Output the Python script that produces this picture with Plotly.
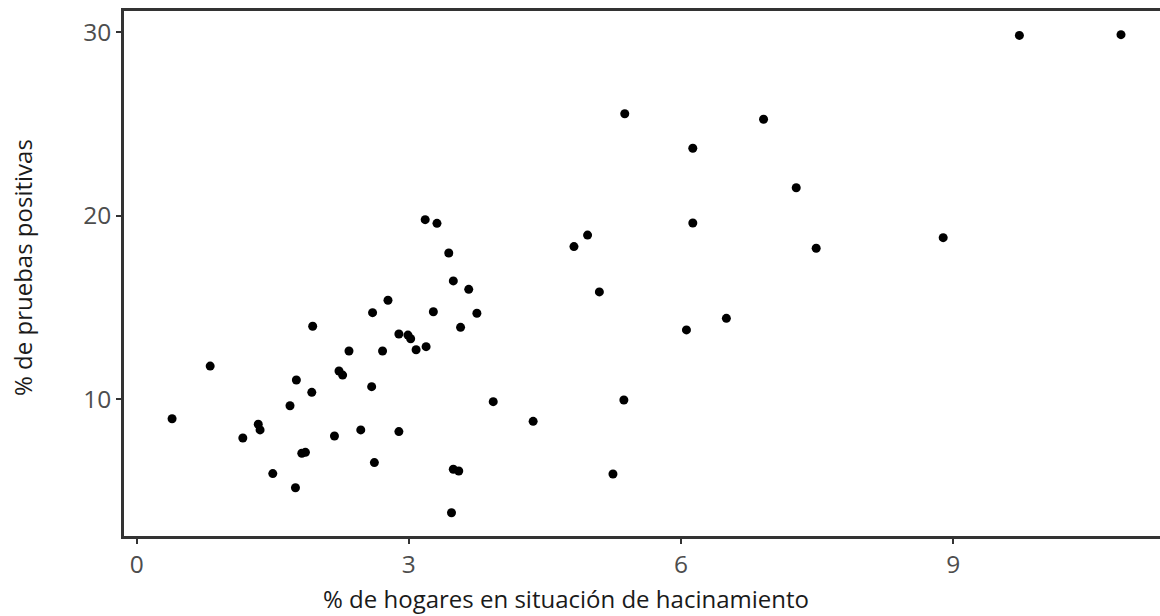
import plotly.graph_objects as go

hacinamiento = [0.39, 0.81, 1.17, 1.34, 1.36, 1.50, 1.69, 1.75, 1.76, 1.82,
                1.86, 1.93, 1.94, 2.18, 2.23, 2.27, 2.34, 2.47, 2.59, 2.60,
                2.62, 2.71, 2.77, 2.89, 2.89, 2.99, 3.02, 3.08, 3.18, 3.19,
                3.27, 3.31, 3.44, 3.47, 3.49, 3.49, 3.55, 3.57, 3.66, 3.75,
                3.93, 4.37, 4.82, 4.97, 5.10, 5.25, 5.37, 5.38, 6.06, 6.13,
                6.13, 6.50, 6.91, 7.27, 7.49, 8.89, 9.73, 10.85]
positivas = [8.94, 11.81, 7.89, 8.64, 8.33, 5.95, 9.65, 5.18, 11.05, 7.06,
             7.11, 10.38, 13.98, 8.00, 11.54, 11.32, 12.63, 8.33, 10.69, 14.72,
             6.55, 12.63, 15.40, 13.56, 8.24, 13.50, 13.30, 12.70, 19.79, 12.87,
             14.77, 19.59, 17.97, 3.82, 16.45, 6.19, 6.09, 13.92, 15.99, 14.69,
             9.87, 8.80, 18.32, 18.95, 15.85, 5.93, 9.96, 25.56, 13.78, 23.68,
             19.61, 14.41, 25.26, 21.53, 18.23, 18.81, 29.83, 29.87]

x_ticks = [0, 3, 6, 9]
y_ticks = [10, 20, 30]
x_title = "% de hogares en situación de hacinamiento"
y_title = "% de pruebas positivas"

FONT = "Open Sans"

fig = go.Figure()
fig.add_trace(go.Scatter(
    x=hacinamiento, y=positivas, mode="markers",
    marker=dict(color="black", size=9, line=dict(width=0)),
    showlegend=False, hoverinfo="x+y",
))

fig.update_layout(
    width=1160, height=616,
    margin=dict(l=124, r=0, t=11, b=80),
    paper_bgcolor="white", plot_bgcolor="white",
    font=dict(family=FONT, color="#4d4d4d", size=24),
    xaxis=dict(
        range=[-0.14, 11.28], tickvals=x_ticks, ticktext=[str(v) for v in x_ticks],
        showgrid=False, zeroline=False,
        showline=True, linecolor="#333333", linewidth=2.5, mirror=True,
        ticks="outside", ticklen=5, tickwidth=2, tickcolor="#333333",
        tickfont=dict(family=FONT, size=24.5, color="#4d4d4d"),
    ),
    yaxis=dict(
        range=[2.55, 31.16], tickvals=y_ticks, ticktext=[str(v) for v in y_ticks],
        showgrid=False, zeroline=False,
        showline=True, linecolor="#333333", linewidth=2.5, mirror=False,
        ticks="outside", ticklen=5, tickwidth=2, tickcolor="#333333",
        tickfont=dict(family=FONT, size=24.5, color="#4d4d4d"),
    ),
    annotations=[
        dict(text=x_title, xref="paper", yref="paper",
             x=(566 - 124) / 1036, y=-(598 - 536) / 525,
             xanchor="center", yanchor="middle", showarrow=False,
             font=dict(family=FONT, size=24, color="#1a1a1a")),
        dict(text=y_title, xref="paper", yref="paper",
             x=-(124 - 22) / 1036, y=(536 - 268) / 525,
             xanchor="center", yanchor="middle", showarrow=False, textangle=-90,
             font=dict(family=FONT, size=24, color="#1a1a1a")),
    ],
)

fig.write_html("out.html", config={"displayModeBar": False},
               post_script="document.body.style.margin='0';document.body.style.overflow='hidden';")
